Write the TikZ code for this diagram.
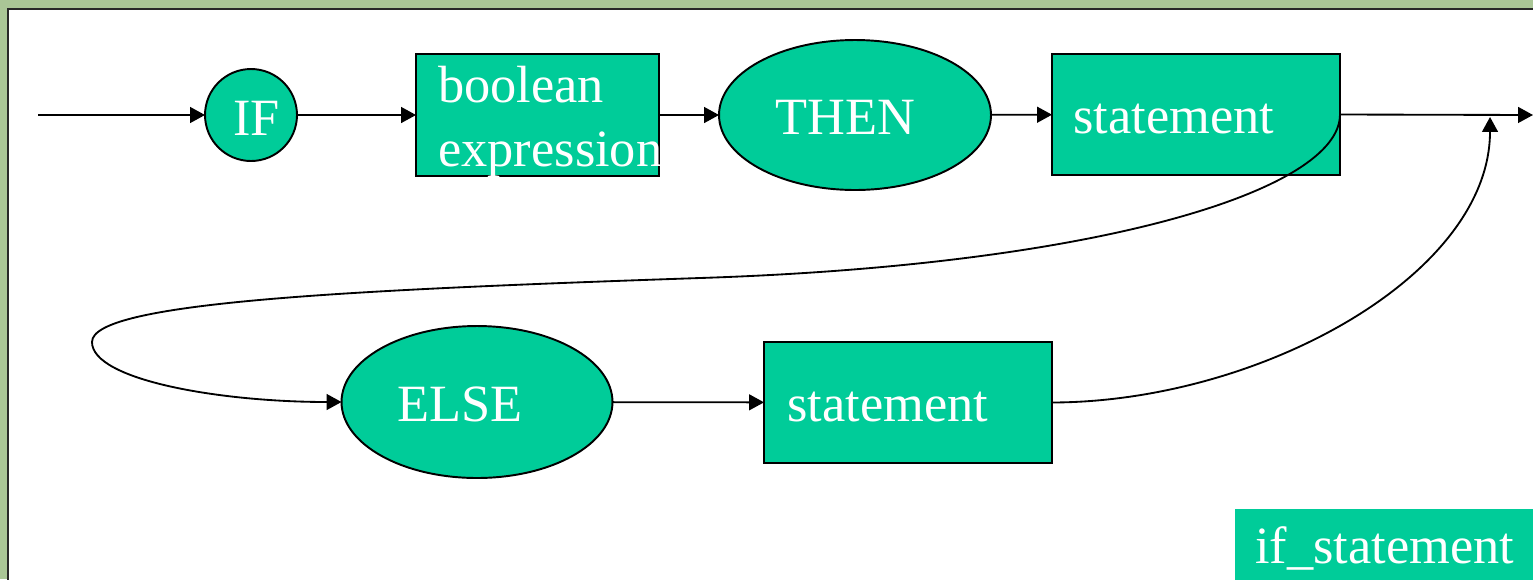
\documentclass[tikz,border=0pt]{standalone}
\usepackage{fontspec}
\setmainfont{Liberation Serif}
\usetikzlibrary{arrows.meta,shapes.geometric}

\definecolor{synfill}{RGB}{0,204,153}
\definecolor{sage}{RGB}{170,198,150}
\definecolor{rim}{RGB}{40,40,40}

\begin{document}
\begin{tikzpicture}[x=0.02cm,y=-0.02cm,
    box/.style={draw, fill=synfill, line width=1.1pt, inner sep=0pt, outer sep=0pt,
        minimum width=5.76cm, minimum height=2.42cm},
    oval/.style={ellipse, draw, fill=synfill, line width=1.1pt, inner sep=0pt, outer sep=0pt},
    word/.style={text=white, inner sep=0pt, anchor=base west,
        font=\fontsize{29.8pt}{35.7pt}\selectfont},
    flow/.style={line width=1.05pt, -{Triangle[length=8.5pt,width=9pt]}}]

\useasboundingbox (0,0) rectangle (1533,579);

% Slide background
\fill[sage] (0,0) rectangle (1533,579);
\draw[rim, fill=white, line width=1.2pt] (8,9) rectangle (1545,590);

% Syntax elements
\node[oval, circle, minimum size=1.84cm] (if) at (251,115) {};
\node[box, minimum width=4.86cm, minimum height=2.44cm] (bool) at (537.5,115) {};
\node[oval, minimum width=5.44cm, minimum height=3cm] (then) at (855,115) {};
\node[box] (stmt) at (1196,114.5) {};
\node[oval, minimum width=5.42cm, minimum height=3.04cm] (else) at (477,402) {};
\node[box] (stmtb) at (908,402.5) {};

% Texts
\node[word] (ifw) at (233,135) {IF};
\node[word] (boolw) at (438,102.7) {boolean};
\node[word] (exprw) at (438,166) {expression};
\node[word] (thenw) at (775,134) {THEN};
\node[word] (stmtw) at (1073,133) {statement};
\node[word] (elsew) at (397,421.7) {ELSE};
\node[word] (stmtbw) at (787,421.7) {statement};

% Name tag
\fill[synfill] (1235,509) rectangle (1545,590);
\node[word] (tag) at (1255,563) {if\_statement};

% Connectors
\coordinate (start) at (38,115);
\coordinate (out) at (1533,115);
\coordinate (join) at (1490,117);

\draw[flow] (start) -- (if);
\draw[flow] (if) -- (bool);
\draw[flow] (bool) -- (then);
\draw[flow] (then) -- (stmt);
\draw[flow] (stmt.east) -- (out);
\draw[flow] (else) -- (stmtb);

% Else branch
\draw[flow] (stmt.east) .. controls (1340,190) and (1100,265) .. (700,278)
    .. controls (350,290) and (92,302) .. (92,342)
    .. controls (92,380) and (220,402) .. (else.west);
\draw[flow] (stmtb.east) .. controls (1260,402) and (1490,275) .. (join);

\end{tikzpicture}
\end{document}
